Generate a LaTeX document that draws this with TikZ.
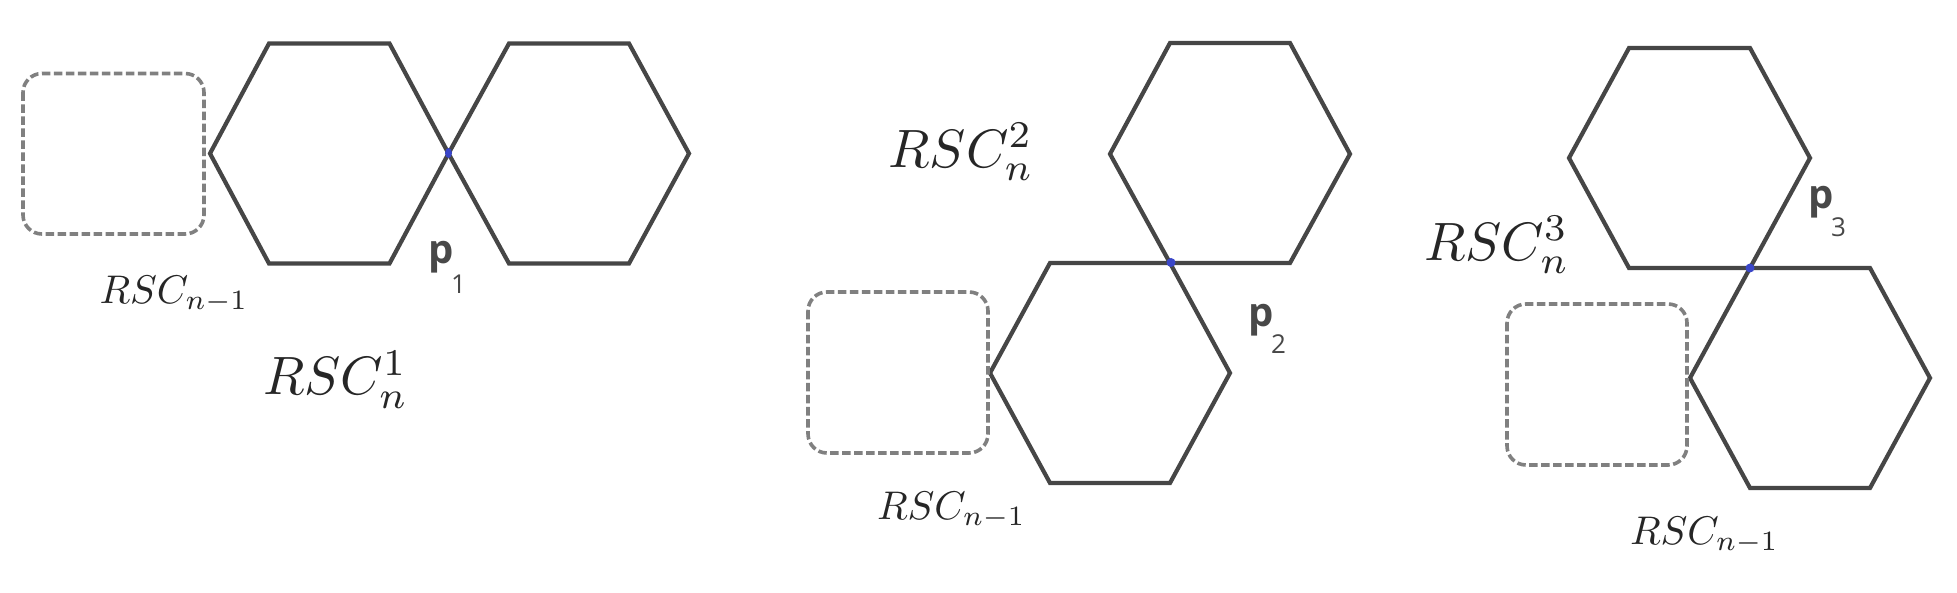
\documentclass[tikz,border=0pt]{standalone}
\usepackage{graphicx}
\usepackage{fontspec}
\usetikzlibrary{shapes.geometric}
\setmainfont{Open Sans}
\definecolor{hexc}{HTML}{464646}
\definecolor{dashc}{HTML}{808080}
\definecolor{dotc}{HTML}{3A46C8}
\definecolor{labc}{HTML}{484848}
\tikzset{
  hexline/.style={draw=hexc,line width=4.2pt,line join=miter},
  sub box/.style={draw=dashc,line width=3.6pt,dash pattern=on 8.5pt off 3.5pt,rounded corners=19pt},
  txt/.style={anchor=base west,inner sep=0pt,outer sep=0pt,text=black!85},
  plabel/.style={anchor=base west,inner sep=0pt,outer sep=0pt,text=labc,font=\fontsize{40}{43}\selectfont\bfseries},
  psub/.style={anchor=base west,inner sep=0pt,outer sep=0pt,text=labc,font=\fontsize{26}{29}\selectfont},
  touch/.style={ellipse,fill=dotc,inner sep=0pt,minimum width=9pt,minimum height=9pt}
}
\newcommand{\rscsmall}{\scalebox{4}{$RSC_{n-1}$}}
\newcommand{\rscbig}[1]{\scalebox{5.4}{$RSC_n^{#1}$}}
\begin{document}
\begin{tikzpicture}[x=1pt,y=-1pt]
\useasboundingbox (0,0) rectangle (1957,593);
% panel 1
\draw[hexline] (210,153.5)--(269,43.5)--(389.5,43.5)--(448.5,153.5)--(389.5,263.5)--(269,263.5)--cycle;
\draw[hexline] (448.5,153.5)--(509,43.5)--(629,43.5)--(689,153.5)--(629,263.5)--(509,263.5)--cycle;
\draw[sub box] (23,73.5) rectangle (204,234);
\node[touch,minimum width=7pt,minimum height=10pt] (d1) at (448.5,153) {};
\node[txt] (t1) at (99.5,303.5) {\rscsmall};
\node[txt] (b1) at (263,395) {\rscbig{1}};
\node[plabel] (p1) at (428,264) {p};
\node[psub] (s1) at (451,294) {1};
% panel 2
\draw[hexline] (1110,154)--(1170,43)--(1290,43)--(1350,154)--(1290,263)--(1170,263)--cycle;
\draw[hexline] (990,373)--(1050,263)--(1170,263)--(1230,373)--(1170,483)--(1050,483)--cycle;
\draw[sub box] (808,292) rectangle (988,453);
\node[touch] (d2) at (1171,262.5) {};
\node[txt] (t2) at (877,519.5) {\rscsmall};
\node[txt] (b2) at (888.5,167.5) {\rscbig{2}};
\node[plabel] (p2) at (1248,327) {p};
\node[psub] (s2) at (1271,354) {2};
% panel 3
\draw[hexline] (1569,158)--(1629,48)--(1750,48)--(1810,158)--(1750,268)--(1629,268)--cycle;
\draw[hexline] (1690,378)--(1750,268)--(1870,268)--(1930,378)--(1870,488)--(1750,488)--cycle;
\draw[sub box] (1507,304) rectangle (1687,465);
\node[touch] (d3) at (1750,268) {};
\node[txt] (t3) at (1630,544) {\rscsmall};
\node[txt] (b3) at (1424,260.5) {\rscbig{3}};
\node[plabel] (p3) at (1808,209) {p};
\node[psub] (s3) at (1831,237) {3};
\end{tikzpicture}
\end{document}
